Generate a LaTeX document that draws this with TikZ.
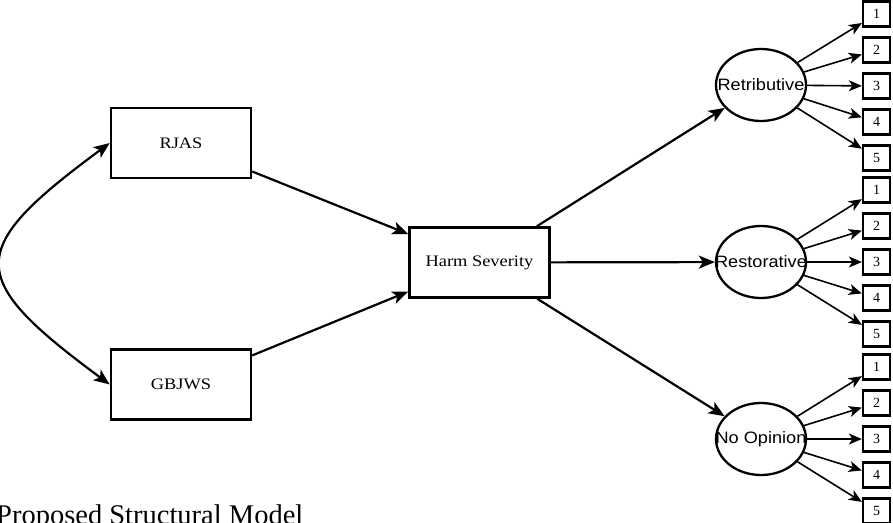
\documentclass[tikz,border=0pt]{standalone}
\usepackage{fontspec}
\setmainfont{Liberation Serif}
\newfontfamily\boxserif[FakeStretch=1.15]{Liberation Serif}
\newfontfamily\ellsans[FakeStretch=1.1]{Liberation Sans}
\usetikzlibrary{arrows.meta,shapes.geometric}
\begin{document}
\begin{tikzpicture}[x=1pt,y=-1pt,
  bigbox/.style={draw,line width=2.5pt,minimum width=140pt,minimum height=70pt,inner sep=0pt,
    font=\boxserif\fontsize{16}{18}\selectfont},
  latent/.style={draw,ellipse,line width=2.3pt,minimum width=90pt,minimum height=72pt,inner sep=0pt,
    label={[font=\ellsans\fontsize{16.5}{18}\selectfont,inner sep=0pt]center:#1}},
  numbox/.style={draw,line width=2.3pt,minimum width=27pt,minimum height=25pt,inner sep=0pt,
    font=\fontsize{14}{16}\selectfont},
  mainarrow/.style={line width=2.2pt,-{Stealth[length=16pt,width=13pt,inset=4pt]}},
  smallarrow/.style={line width=1.6pt,-{Stealth[length=13pt,width=11pt,inset=3.5pt]}}
]
\useasboundingbox (0,0) rectangle (893,522);
\node[bigbox] (RJAS) at (181,143) {RJAS};
\node[bigbox] (GBJWS) at (181,384.5) {GBJWS};
\node[bigbox] (harm) at (479.5,262.5) {Harm Severity};
\node[latent=Retributive] (ret) at (761,85) {};
\node[latent=Restorative] (res) at (761,262) {};
\node[latent=No Opinion] (noo) at (761,439) {};
\draw[mainarrow] (RJAS) -- (harm);
\draw[mainarrow] (GBJWS) -- (harm);
\draw[mainarrow] (harm) -- (ret);
\draw[mainarrow] (harm) -- (res);
\draw[mainarrow] (harm) -- (noo);
\draw[line width=2.2pt,{Stealth[length=16pt,width=13pt,inset=4pt]}-{Stealth[length=16pt,width=13pt,inset=4pt]}]
  (RJAS.west) .. controls +(-145,107) and +(-145,-107) .. (GBJWS.west);
\foreach \g/\yc in {ret/86,res/262,noo/439}{
  \foreach \i in {1,...,5}{
    \node[numbox] (\g\i) at (876.5,{\yc+(\i-3)*36}) {\i};
    \draw[smallarrow] (\g) -- (\g\i);
  }
}
\node[anchor=base west,inner sep=0pt,font=\fontsize{28.5}{30}\selectfont] (cap) at (-4,524) {Proposed Structural Model};
\end{tikzpicture}
\end{document}
